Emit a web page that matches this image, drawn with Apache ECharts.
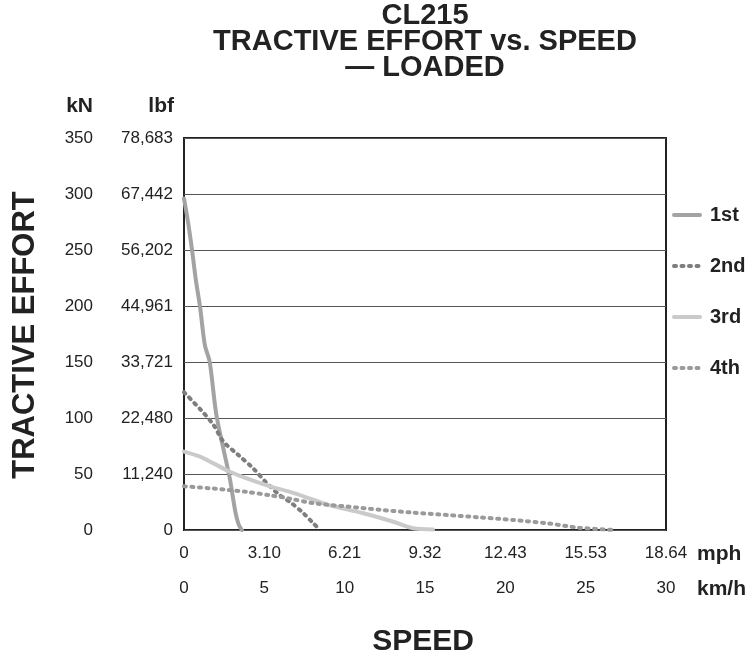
<!DOCTYPE html>
<html><head><meta charset="utf-8">
<script src="https://cdn.jsdelivr.net/npm/echarts@6/dist/echarts.min.js"></script>
<style>html,body{margin:0;padding:0;background:#fff}#c{width:756px;height:661px}</style>
</head><body><div id="c"></div>
<script>
const kmhTicks = ['0','5','10','15','20','25','30'];
const mphTicks = ['0','3.10','6.21','9.32','12.43','15.53','18.64'];
const knTicks = ['0','50','100','150','200','250','300','350'];
const lbfTicks = ['0','11,240','22,480','33,721','44,961','56,202','67,442','78,683'];
const seriesNames = ['1st','2nd','3rd','4th'];
const gear1 = [[0,296],[0.25,275],[0.5,250],[0.75,222],[1.0,199],[1.3,165],[1.6,150],[2.0,104],[2.4,76],[2.85,46],[3.2,16],[3.4,5],[3.6,0]];
const gear2 = [[0,123],[1.0,108],[1.83,94],[2.45,79],[3.38,67],[4.31,55],[5.14,42],[5.97,31],[6.6,25],[7.43,15],[8.05,6],[8.46,0]];
const gear3 = [[0,70],[1.0,65.5],[1.83,59.5],[2.86,52],[3.9,46],[5.35,39],[6.6,34],[8.05,27],[9.08,22],[11.16,15],[13.03,7.4],[14.27,1.5],[15.5,0.5]];
const gear4 = [[0,39],[1.83,37],[3.9,34],[5.35,31],[6.6,28],[8.05,24],[10.1,21],[12.2,18],[14.27,15.5],[16.35,13.4],[18.4,11.3],[20.5,8.9],[22.6,6],[24.6,2],[26.9,0]];

const FN = '"Liberation Sans",Arial,sans-serif';
const FB = '"Liberation Sans",Arial,sans-serif';
const chart = echarts.init(document.getElementById('c'), null, {renderer:'canvas'});
function idx(v, step){ return Math.round(v/step); }
const mk = (name, data, color, type, w) => ({
  name, type:'line', data, smooth:0.3, symbol:'none', xAxisIndex:0, yAxisIndex:0,
  lineStyle:{color, width:w, type, cap:'round'}, itemStyle:{color}
});
chart.setOption({
  animation:false,
  title:{text:'CL215\nTRACTIVE EFFORT vs. SPEED\n— LOADED', left:425, textAlign:'center', top:3, padding:0,
    textStyle:{fontFamily:FB, fontWeight:'bold', fontSize:29, lineHeight:26, color:'#222'}},
  grid:{left:184, right:90, top:138, bottom:131, show:true, borderColor:'#222', borderWidth:2, backgroundColor:'transparent'},
  legend:{orient:'vertical', left:672, top:205, padding:0, itemWidth:26, itemHeight:14, itemGap:31,
    itemStyle:{opacity:0}, lineStyle:{width:4, cap:'round'},
    textStyle:{fontFamily:FB, fontWeight:'bold', fontSize:20, lineHeight:20, color:'#222', padding:[0,0,0,5]}, data:seriesNames},
  xAxis:[
    {type:'value', min:0, max:30, interval:5, position:'bottom', axisLine:{show:false}, axisTick:{show:false}, splitLine:{show:false},
     axisLabel:{margin:15, fontFamily:FN, fontSize:17, color:'#222', formatter:v=>mphTicks[idx(v,5)]}},
    {type:'value', min:0, max:30, interval:5, position:'bottom', offset:35, axisLine:{show:false}, axisTick:{show:false}, splitLine:{show:false},
     axisLabel:{margin:15, fontFamily:FN, fontSize:17, color:'#222', formatter:v=>kmhTicks[idx(v,5)]}}
  ],
  yAxis:[
    {type:'value', min:0, max:350, interval:50, position:'left', axisLine:{show:false}, axisTick:{show:false},
     splitLine:{show:true, lineStyle:{color:'#555', width:1}},
     axisLabel:{margin:11, fontFamily:FN, fontSize:17, color:'#222', formatter:v=>lbfTicks[idx(v,50)]}},
    {type:'value', min:0, max:350, interval:50, position:'left', offset:80, axisLine:{show:false}, axisTick:{show:false}, splitLine:{show:false},
     axisLabel:{margin:11, fontFamily:FN, fontSize:17, color:'#222', formatter:v=>knTicks[idx(v,50)]}}
  ],
  graphic:[
    {type:'text', x:93, y:106, style:{text:'kN', font:'bold 21px '+FB, fill:'#222', textAlign:'right', textVerticalAlign:'middle'}},
    {type:'text', x:174, y:106, style:{text:'lbf', font:'bold 21px '+FB, fill:'#222', textAlign:'right', textVerticalAlign:'middle'}},
    {type:'text', x:697, y:554, style:{text:'mph', font:'bold 21px '+FB, fill:'#222', textVerticalAlign:'middle'}},
    {type:'text', x:697, y:589, style:{text:'km/h', font:'bold 21px '+FB, fill:'#222', textVerticalAlign:'middle'}},
    {type:'text', x:423, y:642, style:{text:'SPEED', font:'bold 30px '+FB, fill:'#222', textAlign:'center', textVerticalAlign:'middle'}},
    {type:'text', x:25, y:335, rotation:Math.PI/2, style:{text:'TRACTIVE EFFORT', font:'bold 31px '+FB, fill:'#222', textAlign:'center', textVerticalAlign:'middle'}}
  ],
  series:[
    mk('1st', gear1, '#a3a3a3', 'solid', 4),
    mk('2nd', gear2, '#7e7e7e', [2,5.5], 4),
    mk('3rd', gear3, '#cacaca', 'solid', 4),
    mk('4th', gear4, '#9a9a9a', [2,5.5], 4)
  ]
});
</script></body></html>
